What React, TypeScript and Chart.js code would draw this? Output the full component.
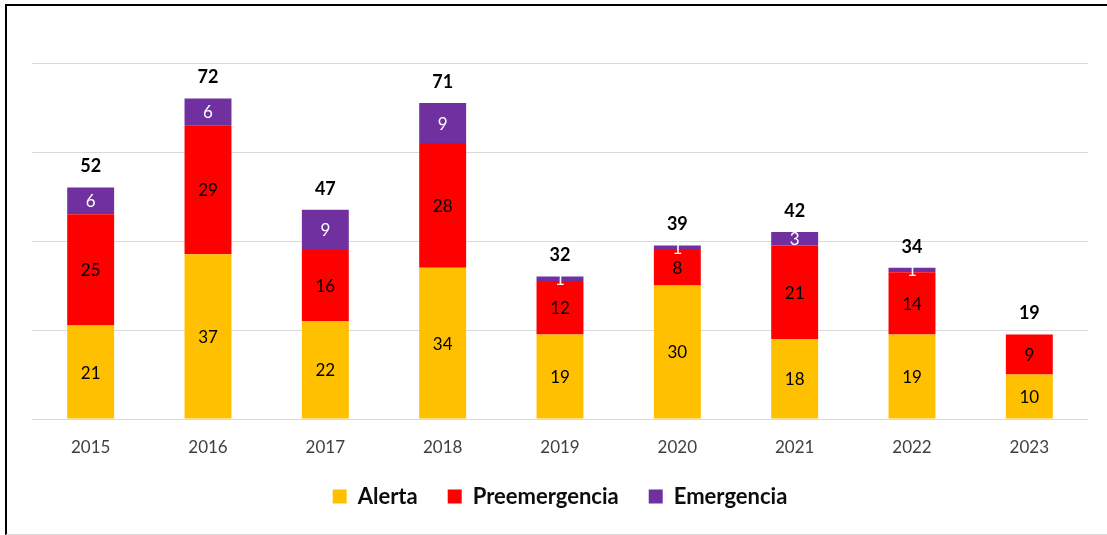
import React, { useEffect, useRef } from "react";
import { Chart, registerables } from "chart.js";

Chart.register(...registerables);

const years = ["2015", "2016", "2017", "2018", "2019", "2020", "2021", "2022", "2023"];
const alerta = [21, 37, 22, 34, 19, 30, 18, 19, 10];
const preemergencia = [25, 29, 16, 28, 12, 8, 21, 14, 9];
const emergencia = [6, 6, 9, 9, 1, 1, 3, 1, 0];
const totals = [52, 72, 47, 71, 32, 39, 42, 34, 19];

const FONT = "Lato, 'Open Sans', sans-serif";
const W = 1107;
const H = 535;
const PLOT_BOTTOM = 419;
const PAD_BOTTOM = 17.4;

const labelPlugin = {
  id: "stackLabels",
  afterDatasetsDraw(chart: any) {
    const ctx = chart.ctx;
    ctx.save();
    ctx.textAlign = "center";
    ctx.textBaseline = "middle";
    chart.data.datasets.forEach((ds: any, di: number) => {
      const meta = chart.getDatasetMeta(di);
      if (meta.hidden) return;
      meta.data.forEach((el: any, i: number) => {
        const v = ds.data[i];
        if (!v) return;
        const cy = (el.y + el.base) / 2;
        ctx.font = `17px ${FONT}`;
        ctx.fillStyle = ds.labelColor;
        ctx.fillText(String(v), el.x, cy + 1);
      });
    });
    const yScale = chart.scales.y;
    const meta0 = chart.getDatasetMeta(0);
    ctx.font = `bold 18px ${FONT}`;
    ctx.fillStyle = "#000000";
    totals.forEach((t, i) => {
      const x = meta0.data[i].x;
      const y = yScale.getPixelForValue(t);
      ctx.fillText(String(t), x, y - 21);
    });
    ctx.restore();
  },
};

export default function App() {
  const ref = useRef<HTMLCanvasElement | null>(null);

  useEffect(() => {
    document.body.style.margin = "0";
    const chart = new Chart(ref.current as HTMLCanvasElement, {
      type: "bar",
      data: {
        labels: years,
        datasets: [
          { label: "Alerta", data: alerta, backgroundColor: "#FFC000", labelColor: "#000000" } as any,
          { label: "Preemergencia", data: preemergencia, backgroundColor: "#FF0000", labelColor: "#000000" } as any,
          { label: "Emergencia", data: emergencia, backgroundColor: "#7030A0", labelColor: "#FFFFFF" } as any,
        ],
      },
      options: {
        animation: false,
        responsive: false,
        maintainAspectRatio: false,
        layout: { padding: { left: 32, right: 19, top: 63, bottom: PAD_BOTTOM } },
        datasets: { bar: { barPercentage: 0.4, categoryPercentage: 1 } },
        scales: {
          x: {
            stacked: true,
            grid: { display: false, drawTicks: false },
            border: { display: false },
            ticks: { font: { family: FONT, size: 17 }, color: "#404040", padding: 18 },
            afterFit: (s: any) => {
              const lh = s.chart.legend ? s.chart.legend.height : 0;
              s.height = H - PAD_BOTTOM - lh - PLOT_BOTTOM;
            },
          },
          y: {
            stacked: true,
            min: 0,
            max: 80,
            ticks: { display: false, stepSize: 20 },
            grid: { color: "#D9D9D9", lineWidth: 1, drawTicks: false },
            border: { display: false },
            afterFit: (s: any) => {
              s.width = 0;
            },
          },
        },
        plugins: {
          legend: {
            position: "bottom",
            labels: {
              boxWidth: 14,
              boxHeight: 14,
              padding: 30,
              color: "#0D0D0D",
              font: { family: FONT, size: 22, weight: "bold" },
            },
          },
          tooltip: { enabled: false },
        },
      },
      plugins: [labelPlugin],
    });
    return () => chart.destroy();
  }, []);

  return (
    <div style={{ position: "relative", width: W, height: H }}>
      <canvas ref={ref} width={W} height={H} style={{ position: "absolute", left: 0, top: 0 }} />
      <div
        style={{
          position: "absolute",
          left: 5,
          top: 4,
          width: 1102,
          height: 528,
          borderLeft: "2px solid #000",
          borderTop: "2px solid #000",
          borderBottom: "1px solid #D9D9D9",
          pointerEvents: "none",
        }}
      />
    </div>
  );
}
